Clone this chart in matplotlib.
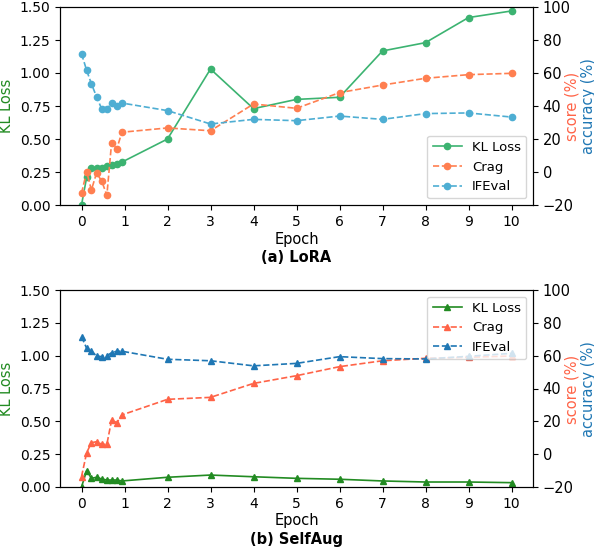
import numpy as np
import matplotlib
matplotlib.use("Agg")
import matplotlib.pyplot as plt

# epochs (first epoch logged in sub-steps)
epochs = [0, 0.12, 0.23, 0.35, 0.47, 0.59, 0.70, 0.82, 0.94, 2, 3, 4, 5, 6, 7, 8, 9, 10]

# (a) LoRA
lora_kl = [0.0, 0.21, 0.28, 0.28, 0.28, 0.295, 0.30, 0.31, 0.325, 0.50, 1.03, 0.73, 0.80, 0.816, 1.167, 1.23, 1.42, 1.47]
lora_crag = [-12.9, 0.2, -10.9, -0.6, -5.5, -14.1, 17.8, 14.0, 24.1, 26.7, 25.0, 41.2, 38.6, 48.1, 52.7, 56.8, 59.0, 59.8]
lora_ifeval = [71.7, 61.6, 53.5, 45.6, 38.2, 38.2, 41.8, 39.8, 41.8, 37.2, 29.1, 31.9, 31.1, 33.9, 31.9, 35.4, 35.8, 33.3]

# (b) SelfAug
aug_kl = [0.0, 0.125, 0.066, 0.074, 0.061, 0.053, 0.053, 0.053, 0.046, 0.074, 0.091, 0.078, 0.066, 0.059, 0.046, 0.038, 0.038, 0.033]
aug_crag = [-13.7, 0.9, 7.0, 7.6, 6.0, 6.0, 20.8, 19.2, 23.9, 33.4, 34.6, 43.1, 47.8, 53.3, 56.9, 58.4, 59.0, 59.8]
aug_ifeval = [71.6, 64.5, 62.8, 59.8, 59.4, 60.0, 61.8, 62.7, 62.7, 57.8, 56.9, 53.8, 55.3, 59.4, 58.2, 58.0, 59.6, 61.4]

W, H = 594, 550
fig = plt.figure(figsize=(W / 100, H / 100), dpi=100)

def panel(rect, kl, crag, ifeval, marker, colors, title, legend_loc):
    ax = fig.add_axes(rect)
    ax2 = ax.twinx()
    c_kl, c_crag, c_if = colors
    l1, = ax.plot(epochs, kl, color=c_kl, marker=marker, ms=4.5, lw=1.2, label='KL Loss')
    l2, = ax2.plot(epochs, crag, color=c_crag, marker=marker, ms=4.5, lw=1.2, ls='--', label='Crag')
    l3, = ax2.plot(epochs, ifeval, color=c_if, marker=marker, ms=4.5, lw=1.2, ls='--', label='IFEval')
    ax.set_xlim(-0.5, 10.5)
    ax.set_ylim(0, 1.5)
    ax2.set_ylim(-20, 100)
    ax.set_xticks(range(11))
    ax.set_yticks([0, 0.25, 0.5, 0.75, 1.0, 1.25, 1.5])
    ax.set_yticklabels(['%.2f' % v for v in [0, 0.25, 0.5, 0.75, 1.0, 1.25, 1.5]])
    ax2.set_yticks(range(-20, 101, 20))
    ax.tick_params(labelsize=10)
    ax2.tick_params(labelsize=10.5)
    ax.set_xlabel('Epoch', fontsize=10.5, labelpad=2)
    ax.set_ylabel('KL Loss', color='forestgreen', fontsize=10.5, labelpad=4)
    ax2.legend([l1, l2, l3], ['KL Loss', 'Crag', 'IFEval'], loc=legend_loc, fontsize=9.5,
               handlelength=2.2, borderaxespad=0.5)
    ax.set_title(title, y=-0.33, fontsize=10.5, fontweight='bold')
    return ax, ax2

top = [60 / W, 1 - 205 / H, 473 / W, 198 / H]
bot = [60 / W, 1 - 487 / H, 473 / W, 197 / H]

panel(top, lora_kl, lora_crag, lora_ifeval, 'o',
      ('mediumseagreen', 'coral', '#4eaed3'), '(a) LoRA', 'lower right')
panel(bot, aug_kl, aug_crag, aug_ifeval, '^',
      ('forestgreen', 'tomato', '#1f77b4'), '(b) SelfAug', 'upper right')

for yc in [106, 389]:
    fig.text(572 / W, 1 - yc / H, 'score (%)', color='tomato', rotation=90,
             ha='center', va='center', fontsize=10.5)
    fig.text(588 / W, 1 - yc / H, 'accuracy (%)', color='#1f77b4', rotation=90,
             ha='center', va='center', fontsize=10.5)

fig.savefig('out.png', dpi=100)
